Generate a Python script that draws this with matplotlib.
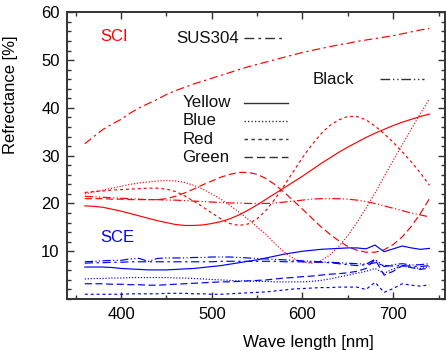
import matplotlib
matplotlib.use('Agg')
import matplotlib.pyplot as plt
import numpy as np
from matplotlib.ticker import MultipleLocator

plt.rcParams['font.family'] = ['Liberation Sans', 'DejaVu Sans']

# wavelength grid, 10 nm step
wl = np.arange(360, 741, 10)

# SCI (specular included)
sus_sci = [32.5, 34.0, 35.5, 36.6, 37.6, 38.9, 40.0, 40.9, 41.8, 42.8,
           43.6, 44.3, 45.0, 45.6, 46.2, 46.8, 47.4, 48.0, 48.6, 49.1,
           49.6, 50.1, 50.6, 51.1, 51.6, 52.0, 52.4, 52.8, 53.2, 53.5,
           53.9, 54.2, 54.5, 54.8, 55.1, 55.5, 55.9, 56.3, 56.6]
black_sci = [21.5, 21.4, 21.3, 21.2, 21.1, 21.0, 20.9, 20.8, 20.8, 20.7,
             20.7, 20.6, 20.5, 20.4, 20.3, 20.2, 20.1, 20.1, 20.0, 20.0,
             20.0, 20.1, 20.3, 20.5, 20.7, 20.9, 21.0, 21.0, 21.0, 20.9,
             20.7, 20.4, 20.0, 19.5, 19.0, 18.5, 18.0, 17.6, 17.2]
yellow_sci = [19.5, 19.4, 19.2, 18.8, 18.4, 17.9, 17.4, 16.9, 16.4, 16.0,
              15.6, 15.4, 15.4, 15.5, 15.8, 16.2, 16.8, 17.6, 18.6, 19.7,
              20.9, 22.1, 23.3, 24.5, 25.7, 27.0, 28.3, 29.5, 30.7, 31.8,
              32.8, 33.8, 34.7, 35.5, 36.3, 37.0, 37.6, 38.2, 38.7]
blue_sci = [22.0, 22.4, 22.8, 23.2, 23.6, 24.0, 24.3, 24.5, 24.7, 24.8,
            24.7, 24.4, 23.8, 23.0, 22.0, 20.9, 19.6, 18.2, 16.7, 15.1,
            13.5, 11.5, 9.8, 8.5, 7.7, 7.5, 8.0, 9.2, 11.0, 13.3,
            16.0, 19.0, 22.2, 25.6, 29.0, 32.3, 35.6, 38.8, 41.9]
red_sci = [22.3, 22.5, 22.6, 22.8, 22.9, 23.0, 23.1, 23.2, 23.2, 23.0,
           22.5, 21.6, 20.5, 19.3, 18.0, 16.8, 15.8, 15.4, 15.7, 16.8,
           18.6, 21.0, 23.8, 26.7, 29.6, 32.2, 34.5, 36.3, 37.5, 38.2,
           38.2, 37.5, 36.2, 34.6, 32.8, 30.8, 28.7, 26.4, 23.8]
green_sci = [21.0, 21.0, 21.0, 20.9, 20.9, 20.8, 20.8, 20.8, 20.8, 21.0,
             21.5, 22.2, 23.0, 23.9, 24.7, 25.5, 26.1, 26.5, 26.5, 26.1,
             25.2, 23.9, 22.3, 20.6, 18.8, 17.0, 15.2, 13.6, 12.2, 11.0,
             10.2, 9.8, 9.8, 10.3, 11.4, 13.0, 15.2, 17.9, 21.0]

# SCE (specular excluded)
sus_sce = [7.5, 7.6, 7.6, 7.7, 7.7, 7.8, 7.8, 7.8, 7.8, 7.8,
           7.8, 7.8, 7.8, 7.8, 7.8, 7.9, 7.9, 7.9, 7.9, 7.9,
           7.9, 7.9, 7.8, 7.8, 7.8, 7.7, 7.7, 7.6, 7.4, 7.2,
           7.0, 7.2, 7.6, 7.0, 6.9, 7.0, 6.9, 6.8, 7.0]
black_sce = [7.8, 7.9, 8.0, 8.1, 8.1, 8.4, 8.5, 7.9, 8.5, 8.6,
             8.6, 8.6, 8.7, 8.7, 8.8, 8.8, 8.8, 8.7, 8.6, 8.5,
             8.4, 8.3, 8.2, 8.1, 8.0, 7.9, 7.8, 7.7, 7.6, 7.5,
             7.4, 7.3, 8.3, 6.8, 7.2, 7.4, 7.1, 7.2, 7.4]
yellow_sce = [6.7, 6.7, 6.7, 6.6, 6.4, 6.3, 6.2, 6.1, 6.1, 6.1,
              6.2, 6.3, 6.4, 6.6, 6.8, 7.0, 7.3, 7.6, 7.9, 8.2,
              8.6, 9.0, 9.4, 9.7, 10.0, 10.2, 10.4, 10.5, 10.6, 10.7,
              10.7, 10.5, 11.3, 9.9, 10.5, 11.1, 10.7, 10.4, 10.6]
blue_sce = [4.2, 4.3, 4.3, 4.4, 4.4, 4.5, 4.5, 4.5, 4.5, 4.5,
            4.4, 4.4, 4.3, 4.2, 4.1, 4.0, 3.9, 3.8, 3.8, 3.7,
            3.7, 3.6, 3.6, 3.6, 3.6, 3.7, 3.9, 4.2, 4.6, 5.0,
            5.4, 5.8, 6.4, 5.4, 6.3, 6.9, 6.6, 6.4, 6.8]
green_sce = [3.2, 3.2, 3.2, 3.1, 3.1, 3.0, 3.0, 2.9, 2.9, 3.0,
             3.1, 3.2, 3.3, 3.4, 3.5, 3.6, 3.6, 3.7, 3.8, 3.9,
             4.0, 4.2, 4.4, 4.5, 4.7, 4.8, 5.0, 5.2, 5.3, 5.5,
             5.8, 6.4, 8.3, 5.0, 5.8, 7.0, 6.6, 6.2, 6.5]
red_sce = [1.0, 1.0, 1.0, 1.0, 1.0, 1.1, 1.1, 1.1, 1.1, 1.2,
           1.2, 1.2, 1.1, 1.1, 1.0, 1.0, 1.1, 1.2, 1.3, 1.4,
           1.5, 1.7, 1.9, 2.1, 2.2, 2.3, 2.4, 2.4, 2.5, 2.5,
           2.5, 2.0, 3.5, 1.4, 2.2, 3.2, 2.9, 2.7, 3.0]

# line styles per sample
styles = {
    'SUS304': (0, (7, 3, 2, 3)),
    'Black': (0, (7, 2, 1, 2, 1, 2)),
    'Yellow': '-',
    'Blue': (0, (1, 1.5)),
    'Red': (0, (2.5, 2.5)),
    'Green': (0, (6, 3)),
}

sci = {'SUS304': sus_sci, 'Black': black_sci, 'Yellow': yellow_sci,
       'Blue': blue_sci, 'Red': red_sci, 'Green': green_sci}
sce = {'SUS304': sus_sce, 'Black': black_sce, 'Yellow': yellow_sce,
       'Blue': blue_sce, 'Red': red_sce, 'Green': green_sce}

fig = plt.figure(figsize=(4.46, 3.51), dpi=100)
ax = fig.add_axes([0.1495, 0.148, 0.848, 0.817])

for name in sci:
    ax.plot(wl, sci[name], color='#ff0000', lw=0.85, linestyle=styles[name])
for name in sce:
    ax.plot(wl, sce[name], color='#0000ff', lw=0.85, linestyle=styles[name])

ax.set_xlim(340, 757)
ax.set_ylim(0, 60)
ax.xaxis.set_major_locator(MultipleLocator(100))
ax.xaxis.set_minor_locator(MultipleLocator(50))
ax.yaxis.set_minor_locator(MultipleLocator(2))
ax.set_yticks([10, 20, 30, 40, 50, 60])
ax.tick_params(which='both', direction='in', top=True, right=True,
               color='#333333', labelsize=12, width=1.0)
ax.tick_params(which='major', length=5)
ax.tick_params(which='minor', length=3)
ax.tick_params(axis='x', pad=6)
ax.tick_params(axis='y', pad=5)
for s in ax.spines.values():
    s.set_color('#333333')
    s.set_linewidth(1.4)

ax.set_xlabel('Wave length [nm]', fontsize=12.2)
ax.xaxis.set_label_coords(0.64, -0.125)
ax.set_ylabel('Refrectance [%]', fontsize=12)
ax.yaxis.set_label_coords(-0.128, 0.714)

# labels
ax.text(0.088, 0.914, 'SCI', color='#ff0000', fontsize=12,
        transform=ax.transAxes, va='center')
ax.text(0.088, 0.213, 'SCE', color='#0000ff', fontsize=12,
        transform=ax.transAxes, va='center')

# hand-placed key
key = [('SUS304', 0.291, 0.910, 0.470, 0.576),
       ('Black', 0.649, 0.767, 0.829, 0.945),
       ('Yellow', 0.306, 0.684, 0.470, 0.586),
       ('Blue', 0.306, 0.621, 0.470, 0.586),
       ('Red', 0.306, 0.558, 0.470, 0.586),
       ('Green', 0.306, 0.495, 0.470, 0.586)]
for name, tx, ty, x0, x1 in key:
    ax.text(tx, ty, name, fontsize=12.2, transform=ax.transAxes,
            va='center', color='#111111')
    ax.plot([x0, x1], [ty, ty], color='#333333', lw=1.0,
            linestyle=styles[name], transform=ax.transAxes)

fig.savefig('out.png', dpi=100)
